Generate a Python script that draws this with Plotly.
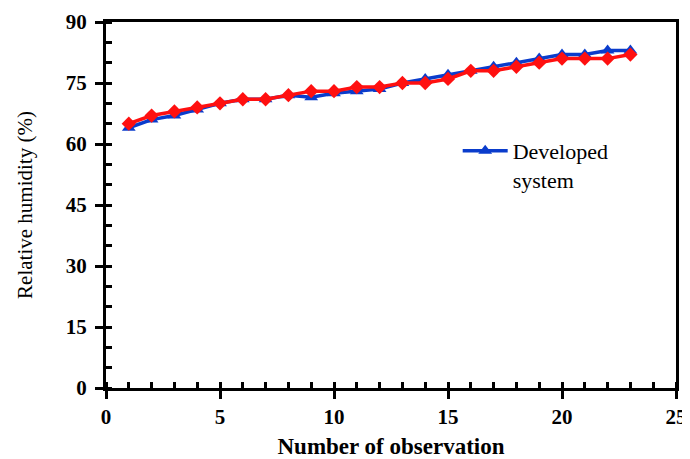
import plotly.graph_objects as go

obs = list(range(1, 24))
developed = [64, 66, 67, 68.5, 70, 71, 71, 72, 71.5, 72.5, 73, 73.5, 75, 76, 77, 78, 79, 80, 81, 82, 82, 83, 83]
other = [65, 67, 68, 69, 70, 71, 71, 72, 73, 73, 74, 74, 75, 75, 76, 78, 78, 79, 80, 81, 81, 81, 82]

x_ticks = [0, 5, 10, 15, 20, 25]
y_ticks = [0, 15, 30, 45, 60, 75, 90]

serif = "Liberation Serif, Times New Roman, serif"

fig = go.Figure()
fig.add_trace(go.Scatter(
    x=obs, y=developed, mode="lines+markers", name="Developed<br>system",
    line=dict(color="#0a3ccc", width=3.5),
    marker=dict(symbol="triangle-up", size=12, color="#0a3ccc"),
))
fig.add_trace(go.Scatter(
    x=obs, y=other, mode="lines+markers", name="Existing", showlegend=False,
    line=dict(color="#ff1010", width=3.5),
    marker=dict(symbol="diamond", size=11, color="#ff1010"),
))

axis_common = dict(
    showline=True, linecolor="black", linewidth=3, mirror=True, automargin=False,
    showgrid=False, zeroline=False, ticks="outside", ticklen=8, tickwidth=2.5,
    tickcolor="black",
    tickfont=dict(family=serif, size=21, color="black", weight="bold"),
)

fig.update_xaxes(
    range=[0, 25], tickvals=x_ticks, **axis_common,
    minor=dict(dtick=1, ticks="inside", ticklen=6, tickwidth=2.5, tickcolor="black"),
    title=dict(text="<b>Number of observation</b>", font=dict(family=serif, size=23, color="black"), standoff=19),
)
fig.update_yaxes(
    range=[0, 90], tickvals=y_ticks, **axis_common, ticklabelstandoff=4,
    minor=dict(dtick=5, ticks="inside", ticklen=6, tickwidth=2.5, tickcolor="black"),
    title=dict(text="Relative humidity (%)", font=dict(family=serif, size=21, color="black"), standoff=28),
)

fig.update_layout(
    width=682, height=451,
    margin=dict(l=98, r=14, t=14, b=71),
    paper_bgcolor="white", plot_bgcolor="white",
    legend=dict(x=0.617, y=0.705, xanchor="left", yanchor="top", valign="top",
                font=dict(family=serif, size=22, color="black"),
                bgcolor="rgba(0,0,0,0)", itemwidth=45),
    showlegend=True,
)

fig.write_html("out.html")
